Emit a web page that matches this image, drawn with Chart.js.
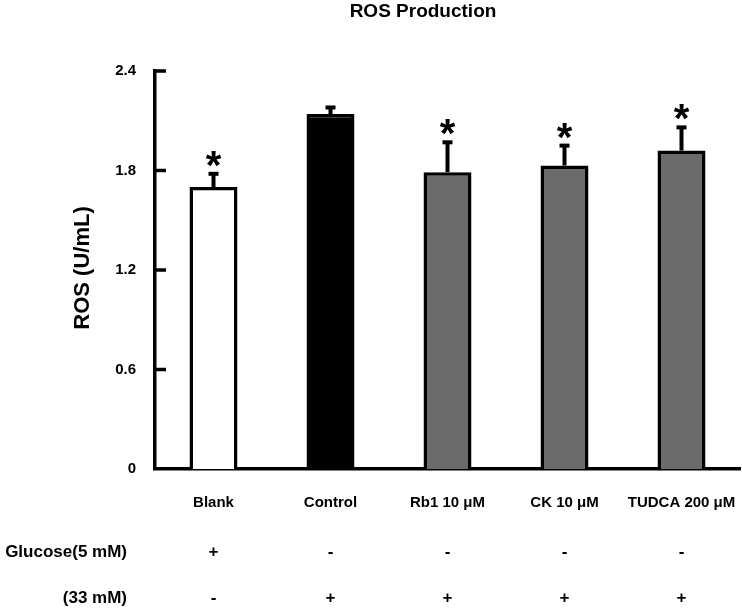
<!DOCTYPE html>
<html>
<head>
<meta charset="utf-8">
<script src="https://cdn.jsdelivr.net/npm/chart.js@4"></script>
<style>
  html, body { margin: 0; padding: 0; background: #fff; }
  #wrap { width: 742px; height: 614px; position: relative; }
</style>
</head>
<body>
<div id="wrap"><canvas id="rosChart" width="742" height="614"></canvas></div>
<script>
// values
const categories = ['Blank', 'Control', 'Rb1 10 μM', 'CK 10 μM', 'TUDCA 200 μM'];
const rosMean = [1.70, 2.14, 1.79, 1.83, 1.92];
const rosErr = [0.08, 0.04, 0.18, 0.12, 0.14];
const starred = [true, false, true, true, true];
const glucose5 = ['+', '-', '-', '-', '-'];
const glucose33 = ['-', '+', '+', '+', '+'];
const yTicks = [0, 0.6, 1.2, 1.8, 2.4];

const FONT = "'Liberation Sans', Arial, sans-serif";
const fills = ['#ffffff', '#000000', '#6b6b6b', '#6b6b6b', '#6b6b6b'];

// error bars, stars, inward ticks, title, glucose rows
const extras = {
  id: 'extras',
  afterDatasetsDraw(chart) {
    const ctx = chart.ctx;
    const x = chart.scales.x, y = chart.scales.y;
    const meta = chart.getDatasetMeta(0);
    ctx.save();
    ctx.fillStyle = '#000';
    ctx.strokeStyle = '#000';
    // inward tick marks on y axis
    ctx.lineWidth = 3.5;
    yTicks.forEach(v => {
      if (v === 0) return;
      const py = y.getPixelForValue(v);
      ctx.beginPath();
      ctx.moveTo(x.left - 1, py);
      ctx.lineTo(x.left + 11, py);
      ctx.stroke();
    });
    meta.data.forEach((bar, i) => {
      const top = y.getPixelForValue(rosMean[i]);
      const cap = y.getPixelForValue(rosMean[i] + rosErr[i]);
      ctx.lineWidth = 4;
      ctx.beginPath();
      ctx.moveTo(bar.x, top);
      ctx.lineTo(bar.x, cap);
      ctx.stroke();
      ctx.fillRect(bar.x - 5, cap - 2, 10, 4);
      if (starred[i]) {
        ctx.font = 'bold 40px ' + FONT;
        ctx.textAlign = 'center';
        ctx.textBaseline = 'alphabetic';
        ctx.fillText('*', bar.x, cap + 5);
      }
    });
    // title
    ctx.font = 'bold 19px ' + FONT;
    ctx.textAlign = 'center';
    ctx.textBaseline = 'middle';
    ctx.fillText('ROS Production', 423, 12);
    // y title
    ctx.save();
    ctx.translate(83, 268);
    ctx.rotate(-Math.PI / 2);
    ctx.font = 'bold 22px ' + FONT;
    ctx.fillText('ROS (U/mL)', 0, 0);
    ctx.restore();
    // glucose rows
    ctx.font = 'bold 17px ' + FONT;
    ctx.textAlign = 'right';
    ctx.fillText('Glucose(5 mM)', 127, 552);
    ctx.fillText('(33 mM)', 127, 598);
    ctx.textAlign = 'center';
    meta.data.forEach((bar, i) => {
      ctx.fillText(glucose5[i], bar.x, 552);
      ctx.fillText(glucose33[i], bar.x, 598);
    });
    ctx.restore();
  }
};

new Chart(document.getElementById('rosChart').getContext('2d'), {
  type: 'bar',
  data: {
    labels: categories,
    datasets: [{
      data: rosMean,
      backgroundColor: fills,
      borderColor: '#000',
      borderWidth: 3.5,
      categoryPercentage: 1,
      barPercentage: 0.41
    }]
  },
  options: {
    responsive: false,
    animation: false,
    events: [],
    layout: { padding: { top: 71, right: 2, left: 0, bottom: 0 } },
    plugins: { legend: { display: false }, title: { display: false }, tooltip: { enabled: false } },
    scales: {
      x: {
        grid: { display: false, drawTicks: false },
        border: { color: '#000', width: 3.5 },
        ticks: { color: '#000', font: { family: FONT, size: 15, weight: 'bold' }, padding: 25, maxRotation: 0 },
        afterFit(s) { s.height = 145; s.paddingLeft = 0; s.paddingRight = 0; }
      },
      y: {
        min: 0, max: 2.4,
        grid: { display: false, drawTicks: false },
        border: { color: '#000', width: 3.5 },
        ticks: {
          stepSize: 0.6, color: '#000', padding: 19,
          font: { family: FONT, size: 15, weight: 'bold' },
          callback: v => v === 0 ? '0' : Number(v).toFixed(1)
        },
        afterFit(s) { s.width = 155; s.paddingTop = 0; s.paddingBottom = 0; }
      }
    }
  },
  plugins: [extras]
});
</script>
</body>
</html>
